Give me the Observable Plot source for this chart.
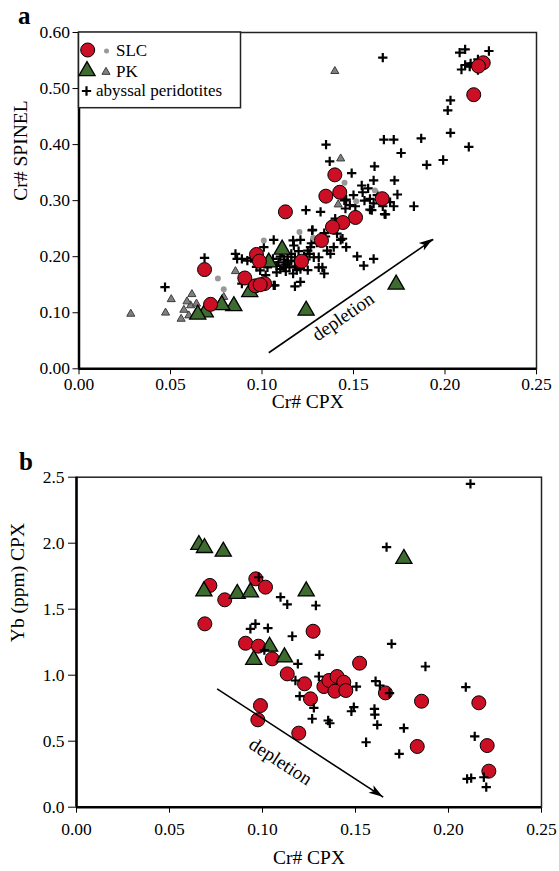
<!DOCTYPE html>
<html><head><meta charset="utf-8">
<script src="https://cdn.jsdelivr.net/npm/d3@7"></script>
<script src="https://cdn.jsdelivr.net/npm/@observablehq/plot@0.6"></script>
<style>body{margin:0;background:#fff;} #c svg{display:block;}</style>
</head><body><div id="c"></div>
<script>
const FONT = "'Liberation Serif','Times New Roman',serif";
const RED = "#cc0f25", GREEN = "#3d6b30", GREYF = "#808080", GREYS = "#3c3c3c", GREYDOT = "#999999";

// ---------- tick values ----------
const xTicks = [0, 0.05, 0.10, 0.15, 0.20, 0.25];
const yTicksA = [0, 0.1, 0.2, 0.3, 0.4, 0.5, 0.6];
const yTicksB = [0, 0.5, 1.0, 1.5, 2.0, 2.5];

// ---------- panel a : Cr# CPX vs Cr# SPINEL ----------
const slcA = [[0.2209,0.546],[0.2183,0.540],[0.2157,0.489],[0.1398,0.346],[0.1349,0.308],[0.1425,0.315],[0.1657,0.3035],[0.1128,0.280],[0.1511,0.270],[0.1442,0.261],[0.1385,0.253],[0.1325,0.229],[0.1216,0.192],[0.0970,0.204],[0.0986,0.192],[0.0906,0.162],[0.0964,0.148],[0.1014,0.152],[0.0686,0.177],[0.0719,0.115],[0.0990,0.150]];
const slcSmallA = [[0.1451,0.332],[0.1617,0.318],[0.1515,0.299],[0.1205,0.244],[0.1280,0.234],[0.1010,0.229],[0.0759,0.161],[0.0791,0.142]];
const pkA = [[0.1110,0.213],[0.1037,0.190],[0.0933,0.137],[0.1241,0.104],[0.1733,0.1505],[0.0846,0.112],[0.0780,0.114],[0.0690,0.101],[0.0649,0.097]];
const pkSmallA = [[0.1398,0.531],[0.1430,0.375],[0.1416,0.293],[0.0283,0.098],[0.0473,0.100],[0.0504,0.124],[0.0617,0.133],[0.0610,0.113],[0.0573,0.105],[0.0558,0.089],[0.0642,0.116],[0.0791,0.128],[0.0855,0.174],[0.0600,0.095],[0.0590,0.120]];
const abyssalA = [[0.166,0.555],[0.211,0.570],[0.208,0.564],[0.224,0.567],[0.211,0.542],[0.209,0.534],[0.2135,0.539],[0.218,0.552],[0.218,0.533],[0.214,0.545],
[0.203,0.479],[0.2015,0.461],[0.203,0.421],[0.213,0.396],[0.187,0.411],[0.172,0.409],[0.1666,0.409],[0.176,0.385],[0.190,0.364],[0.199,0.3725],
[0.135,0.400],[0.137,0.370],[0.1615,0.361],[0.149,0.349],[0.1724,0.336],[0.161,0.336],[0.1545,0.327],[0.174,0.311],[0.155,0.315],[0.145,0.3005],
[0.159,0.303],[0.161,0.295],[0.172,0.290],[0.183,0.290],[0.167,0.276],[0.160,0.283],[0.124,0.283],[0.132,0.280],[0.140,0.268],[0.1274,0.247],
[0.117,0.229],[0.121,0.230],[0.1064,0.230],[0.127,0.224],[0.1347,0.236],[0.141,0.241],[0.144,0.232],[0.146,0.217],[0.125,0.211],[0.1356,0.211],
[0.131,0.199],[0.118,0.199],[0.114,0.190],[0.115,0.181],[0.108,0.184],[0.113,0.174],[0.131,0.181],[0.134,0.170],[0.152,0.2005],[0.161,0.196],
[0.1556,0.184],[0.118,0.147],[0.121,0.155],[0.1064,0.149],[0.102,0.167],[0.103,0.181],[0.099,0.1755],[0.089,0.196],[0.0686,0.198],[0.047,0.1457],
[0.0855,0.205],[0.0864,0.196],[0.094,0.1975],[0.101,0.217],[0.089,0.152],[0.107,0.149],[0.092,0.193],[0.146,0.302],[0.1456,0.286],[0.148,0.292],
[0.170,0.2975],[0.1675,0.2755],[0.159,0.284],[0.1276,0.248],[0.134,0.242],[0.143,0.230],[0.1392,0.217],[0.1265,0.217],[0.1174,0.220],[0.1374,0.205],
[0.1283,0.199],[0.133,0.181],[0.110,0.200],[0.112,0.195],[0.116,0.205],[0.120,0.210],[0.109,0.190],[0.113,0.186],[0.119,0.192],[0.122,0.186],
[0.106,0.196],[0.104,0.188],[0.124,0.195],[0.126,0.205],[0.111,0.208],[0.108,0.172],[0.117,0.170],[0.098,0.195],[0.125,0.176],[0.130,0.225],
[0.151,0.290],[0.156,0.300],[0.163,0.310],[0.166,0.290],[0.158,0.322],[0.150,0.310],[0.097,0.182],[0.114,0.200],[0.118,0.183],[0.121,0.178],
[0.110,0.178],[0.116,0.193],[0.123,0.200],[0.119,0.176],[0.112,0.182]];
const arrowA = {x1:0.1037, y1:0.0286, x2:0.1936, y2:0.231};
const labelA = {x:0.1443, y:0.093, angle:-34.6, text:"depletion"};

// ---------- panel b : Cr# CPX vs Yb (ppm) CPX ----------
const slcB = [[0.0717,1.680],[0.0797,1.571],[0.0690,1.389],[0.0964,1.730],[0.1016,1.667],[0.0909,1.242],[0.0978,1.220],[0.1052,1.124],[0.1133,1.010],[0.1226,0.935],[0.1258,0.821],[0.0989,0.770],[0.0975,0.662],[0.1195,0.561],[0.1272,1.333],[0.1522,1.091],[0.1330,0.914],[0.1357,0.960],[0.1401,0.990],[0.1437,0.947],[0.1389,0.879],[0.1448,0.884],[0.1661,0.866],[0.1855,0.803],[0.2163,0.791],[0.1832,0.460],[0.2208,0.467],[0.2217,0.273]];
const pkB = [[0.0658,1.988],[0.0688,1.965],[0.0789,1.937],[0.0685,1.636],[0.0864,1.617],[0.0935,1.629],[0.1760,1.882],[0.1235,1.636],[0.1038,1.217],[0.0953,1.117],[0.1118,1.136]];
const abyssalB = [[0.2118,2.450],[0.1667,1.970],[0.098,1.742],[0.1097,1.591],[0.1133,1.536],[0.1287,1.528],[0.0962,1.389],[0.0935,1.351],[0.1029,1.356],[0.116,1.295],
[0.101,1.19],[0.1306,1.154],[0.119,1.086],[0.1303,0.990],[0.1177,0.960],[0.1505,0.914],[0.120,0.841],[0.1276,0.753],[0.1267,0.670],[0.1353,0.657],
[0.1362,0.636],[0.1491,0.758],[0.1478,0.727],[0.1602,0.745],[0.1604,0.702],[0.1617,0.624],[0.1608,0.955],[0.1631,0.922],[0.1683,0.864],[0.1694,1.238],
[0.1876,1.066],[0.176,0.599],[0.1557,0.492],[0.1735,0.404],[0.2093,0.909],[0.2141,0.536],[0.210,0.215],[0.2122,0.220],[0.219,0.227],[0.2203,0.152]];
const arrowB = {x1:0.0756, y1:0.897, x2:0.1649, y2:0.076};
const labelB = {x:0.1097, y:0.346, angle:33.1, text:"depletion"};

const X = d => d[0], Y = d => d[1];
const PLUS_R = 3.1;

function addHead(svgEl, plot, a) {
  const sx = plot.scale("x"), sy = plot.scale("y");
  const X1 = sx.apply(a.x1), Y1 = sy.apply(a.y1), X2 = sx.apply(a.x2), Y2 = sy.apply(a.y2);
  const ang = Math.atan2(Y2 - Y1, X2 - X1), L = 14, W = 4.5;
  const bx = X2 - L * Math.cos(ang), by = Y2 - L * Math.sin(ang);
  const px = -Math.sin(ang), py = Math.cos(ang);
  d3.select(svgEl).append("path")
    .attr("d", `M${X2},${Y2}L${bx + W*px},${by + W*py}L${bx + L*0.25*Math.cos(ang)},${by + L*0.25*Math.sin(ang)}L${bx - W*px},${by - W*py}Z`)
    .attr("fill", "#000");
}

const axisFont = {fontFamily: FONT, fontSize: 17.5};

// ---------- panel a ----------
const plotA = Plot.plot({
  width: 559, height: 430,
  marginLeft: 78.5, marginRight: 23, marginTop: 32, marginBottom: 61.7,
  style: {fontFamily: FONT, fontSize: "17px", color: "#000", background: "#fff"},
  x: {domain: [0, 0.25]},
  y: {domain: [0, 0.6]},
  marks: [
    Plot.axisX({ticks: xTicks, tickSize: 6, tickPadding: 3, tickFormat: d3.format(".2f"), label: null, ...axisFont}),
    Plot.axisY({ticks: yTicksA, tickSize: 6, tickPadding: 3, tickFormat: d3.format(".2f"), label: null, ...axisFont}),
    Plot.frame({stroke: "#222", strokeWidth: 1.5}),
    Plot.ruleX([0], {stroke: "#000", strokeWidth: 2.5}),
    Plot.ruleY([0], {stroke: "#000", strokeWidth: 2.5}),
    Plot.dot(abyssalA, {x: X, y: Y, symbol: "plus", r: PLUS_R, stroke: "#000", strokeWidth: 2.2}),
    Plot.dot(pkSmallA, {x: X, y: Y, symbol: "triangle", r: 3, fill: GREYF, stroke: GREYS, strokeWidth: 1}),
    Plot.dot(slcSmallA, {x: X, y: Y, r: 3, fill: GREYDOT}),
    Plot.dot(pkA, {x: X, y: Y, symbol: "triangle", r: 6, fill: GREEN, stroke: "#000", strokeWidth: 1.3}),
    Plot.dot(slcA, {x: X, y: Y, r: 7, fill: RED, stroke: "#000", strokeWidth: 1}),
    Plot.link([arrowA], {x1: "x1", y1: "y1", x2: "x2", y2: "y2", stroke: "#000", strokeWidth: 1.6}),
    Plot.text([labelA], {x: "x", y: "y", text: "text", rotate: labelA.angle, fontSize: 19, fill: "#000", fontFamily: FONT}),
    Plot.text(["Cr# CPX"], {frameAnchor: "bottom", dy: 33, text: d => d, fontSize: 19.5, lineAnchor: "middle", fontFamily: FONT}),
    Plot.text(["Cr# SPINEL"], {frameAnchor: "left", dx: -58.5, rotate: -90, text: d => d, fontSize: 19.5, lineAnchor: "middle", fontFamily: FONT}),
    Plot.text(["a"], {frameAnchor: "top-left", dx: -61, dy: -17, text: d => d, fontSize: 25, fontWeight: "bold", lineAnchor: "middle", fontFamily: FONT})
  ]
});
addHead(plotA, plotA, arrowA);

// legend (panel a)
{
  const g = d3.select(plotA).append("g");
  g.append("rect").attr("x", 78.5).attr("y", 32).attr("width", 162).attr("height", 75.7)
    .attr("fill", "#fff").attr("stroke", "#222").attr("stroke-width", 1.5);
  g.append("circle").attr("cx", 87.7).attr("cy", 50).attr("r", 7).attr("fill", RED).attr("stroke", "#000");
  g.append("circle").attr("cx", 106.5).attr("cy", 51).attr("r", 2.5).attr("fill", GREYDOT);
  g.append("path").attr("d", d3.symbol(d3.symbolTriangle, Math.PI * 36)()).attr("transform", "translate(87,71)")
    .attr("fill", GREEN).attr("stroke", "#000").attr("stroke-width", 1.3);
  g.append("path").attr("d", d3.symbol(d3.symbolTriangle, Math.PI * 9)()).attr("transform", "translate(106,72)")
    .attr("fill", GREYF).attr("stroke", GREYS);
  g.append("path").attr("d", d3.symbol(d3.symbolPlus, Math.PI * PLUS_R * PLUS_R)()).attr("transform", "translate(86.5,91)")
    .attr("fill", "none").attr("stroke", "#000").attr("stroke-width", 2.2);
  const entries = [["SLC", 116, 56], ["PK", 116, 77], ["abyssal peridotites", 96, 96]];
  for (const [t, x, y] of entries) {
    g.append("text").attr("x", x).attr("y", y).text(t)
      .style("font-family", FONT).style("font-size", "17px").style("text-anchor", "start").attr("fill", "#000");
  }
}

// ---------- panel b ----------
const plotB = Plot.plot({
  width: 559, height: 441,
  marginLeft: 76, marginRight: 18, marginTop: 46.7, marginBottom: 64.3,
  style: {fontFamily: FONT, fontSize: "17px", color: "#000", background: "#fff"},
  x: {domain: [0, 0.25]},
  y: {domain: [0, 2.5]},
  marks: [
    Plot.axisX({ticks: xTicks, tickSize: 6, tickPadding: 9, tickFormat: d3.format(".2f"), label: null, ...axisFont}),
    Plot.axisY({ticks: yTicksB, tickSize: 8, tickPadding: 4, tickFormat: d3.format(".1f"), label: null, ...axisFont}),
    Plot.frame({stroke: "#222", strokeWidth: 1.5}),
    Plot.ruleX([0], {stroke: "#000", strokeWidth: 2.5}),
    Plot.ruleY([0], {stroke: "#000", strokeWidth: 2.5}),
    Plot.dot(slcB, {x: X, y: Y, r: 7, fill: RED, stroke: "#000", strokeWidth: 1}),
    Plot.dot(pkB, {x: X, y: Y, symbol: "triangle", r: 6, fill: GREEN, stroke: "#000", strokeWidth: 1.3}),
    Plot.dot(abyssalB, {x: X, y: Y, symbol: "plus", r: PLUS_R, stroke: "#000", strokeWidth: 2.2}),
    Plot.link([arrowB], {x1: "x1", y1: "y1", x2: "x2", y2: "y2", stroke: "#000", strokeWidth: 1.6}),
    Plot.text([labelB], {x: "x", y: "y", text: "text", rotate: labelB.angle, fontSize: 19, fill: "#000", fontFamily: FONT}),
    Plot.text(["Cr# CPX"], {frameAnchor: "bottom", dy: 51, text: d => d, fontSize: 19.5, lineAnchor: "middle", fontFamily: FONT}),
    Plot.text(["Yb (ppm) CPX"], {frameAnchor: "left", dx: -58.5, rotate: -90, text: d => d, fontSize: 19.5, lineAnchor: "middle", fontFamily: FONT}),
    Plot.text(["b"], {frameAnchor: "top-left", dx: -57.5, dy: -15.5, text: d => d, fontSize: 25, fontWeight: "bold", lineAnchor: "middle", fontFamily: FONT})
  ]
});
addHead(plotB, plotB, arrowB);

document.getElementById("c").append(plotA, plotB);
</script>
</body></html>
